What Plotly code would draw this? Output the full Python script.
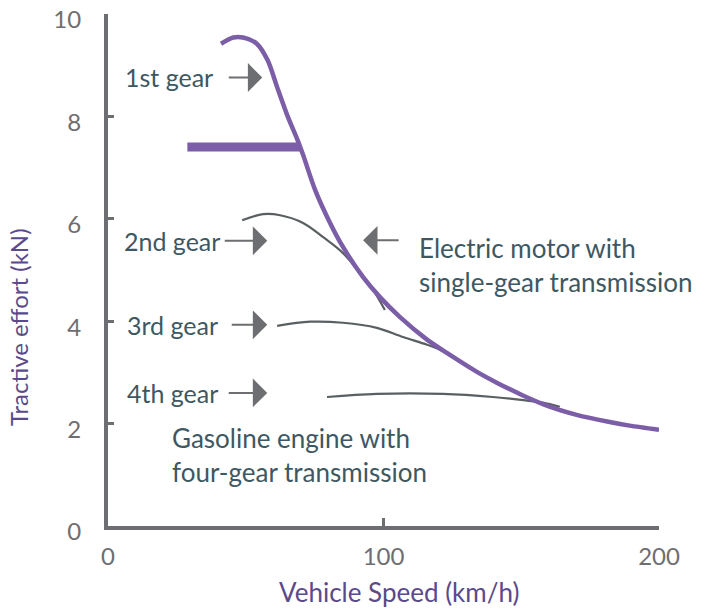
import plotly.graph_objects as go

# ---- data ----
electric_speed = [41, 45.5, 49, 54, 58, 61.4, 65, 68.7, 70.8, 75.2, 80.6, 85.3, 92.6, 98.7, 106,
                  115.8, 123, 133.9, 141.1, 150.6, 160.3, 170.1, 182.1, 189.3, 200]
electric_force = [9.42, 9.54, 9.54, 9.42, 9.09, 8.57, 8.03, 7.55, 7.25, 6.56, 5.92, 5.45, 4.86, 4.47, 4.08,
                  3.64, 3.38, 3.01, 2.80, 2.55, 2.33, 2.17, 2.03, 1.96, 1.88]

bar_speed = [28.8, 69.7]
bar_force = [7.40, 7.40]

gear2_speed = [48.7, 56.3, 62.5, 70.8, 78.1, 85.3, 92.6, 96.2, 100.5]
gear2_force = [5.97, 6.09, 6.07, 5.92, 5.64, 5.33, 4.86, 4.61, 4.22]

gear3_speed = [61.4, 73.4, 85.3, 97.6, 107.1, 115.8, 120.5, 124.8]
gear3_force = [3.91, 3.99, 3.97, 3.87, 3.69, 3.54, 3.44, 3.30]

gear4_speed = [79.5, 97.6, 121.6, 139.7, 152.0, 157.8, 164.0]
gear4_force = [2.52, 2.58, 2.58, 2.52, 2.45, 2.41, 2.33]

x_ticks = [0, 100, 200]
y_ticks = [0, 2, 4, 6, 8, 10]

PURPLE = "#7b5ea7"
GRAY = "#6d6e71"
LINEGRAY = "#5a5f62"
TEXT = "#3d5862"
TITLE = "#5a4a8c"
FONT = "Lato, 'Open Sans', sans-serif"

fig = go.Figure()
for xs, ys in [(gear2_speed, gear2_force), (gear3_speed, gear3_force), (gear4_speed, gear4_force)]:
    fig.add_trace(go.Scatter(x=xs, y=ys, mode="lines", line=dict(color=LINEGRAY, width=2.2, shape="spline"),
                             hoverinfo="skip", showlegend=False))
fig.add_trace(go.Scatter(x=bar_speed, y=bar_force, mode="lines", line=dict(color=PURPLE, width=9),
                         showlegend=False))
fig.add_trace(go.Scatter(x=electric_speed, y=electric_force, mode="lines",
                         line=dict(color=PURPLE, width=4.5, shape="spline", smoothing=0.8), showlegend=False))

ann = []
labels = [("1st gear", 38.9, 8.76, 56.0, -35),
          ("2nd gear", 41.5, 5.57, 57.8, -44),
          ("3rd gear", 40.8, 3.93, 57.8, -37),
          ("4th gear", 40.8, 2.60, 57.8, -40)]
for txt, tx, ty, ax_tip, dx in labels:
    ann.append(dict(x=tx, y=ty, text=txt, showarrow=False, xanchor="right", yanchor="middle",
                    font=dict(size=25, color=TEXT, family=FONT)))
    ann.append(dict(x=ax_tip, y=ty, text="", showarrow=True, ax=dx, ay=0, arrowhead=1,
                    arrowsize=2.4, arrowwidth=2, arrowcolor=GRAY))
# electric motor arrow pointing left
ann.append(dict(x=92.6, y=5.58, text="", showarrow=True, ax=37, ay=0, arrowhead=1,
                arrowsize=2.4, arrowwidth=2, arrowcolor=GRAY))
ann.append(dict(x=112.1, y=5.10, text="Electric motor with<br>single-gear transmission", showarrow=False,
                xanchor="left", yanchor="middle", align="left",
                font=dict(size=26, color=TEXT, family=FONT)))
ann.append(dict(x=22.6, y=1.39, text="Gasoline engine with<br>four-gear transmission", showarrow=False,
                xanchor="left", yanchor="middle", align="left",
                font=dict(size=26, color=TEXT, family=FONT)))
# axis titles
ann.append(dict(xref="paper", yref="paper", x=0.528, y=-0.128, text="Vehicle Speed (km/h)",
                showarrow=False, xanchor="center", yanchor="middle",
                font=dict(size=26, color=TITLE, family=FONT)))
ann.append(dict(xref="paper", yref="paper", x=-0.162, y=0.388, text="Tractive effort (kN)",
                showarrow=False, xanchor="center", yanchor="middle", textangle=-90,
                font=dict(size=24, color=TITLE, family=FONT)))

fig.update_layout(
    width=705, height=612,
    margin=dict(l=108, r=46, t=14, b=86),
    paper_bgcolor="white", plot_bgcolor="white",
    annotations=ann,
    xaxis=dict(range=[0, 200], tickvals=x_ticks, showgrid=False, zeroline=False, automargin=False,
               showline=True, linecolor=GRAY, linewidth=4, ticks="inside", ticklen=8,
               tickwidth=3, tickcolor=GRAY, ticklabelstandoff=6, ticklabeloverflow="allow",
               tickfont=dict(size=24, color=GRAY, family=FONT)),
    yaxis=dict(range=[0, 10], tickvals=y_ticks, showgrid=False, zeroline=False, automargin=False,
               showline=True, linecolor=GRAY, linewidth=4, ticks="inside", ticklen=6,
               tickwidth=3, tickcolor=GRAY, ticklabelstandoff=18, ticklabelshift=6,
               ticklabeloverflow="allow",
               tickfont=dict(size=24, color=GRAY, family=FONT)),
)

fig.write_html("out.html", config={"displayModeBar": False},
               post_script="document.body.style.margin='0';")
